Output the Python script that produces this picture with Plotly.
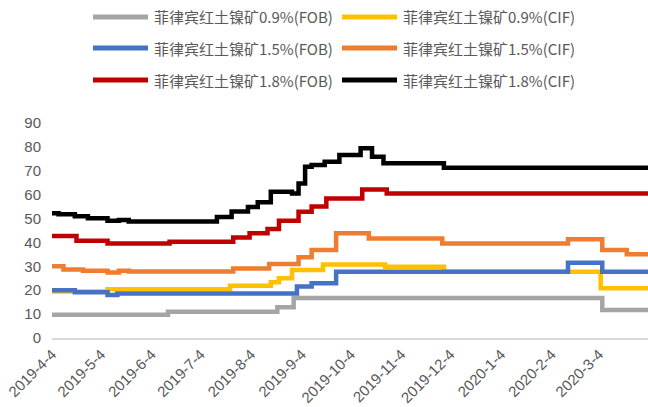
import plotly.graph_objects as go

# ---------------- data ----------------
series_names = [
    "菲律宾红土镍矿0.9%(FOB)",
    "菲律宾红土镍矿0.9%(CIF)",
    "菲律宾红土镍矿1.5%(FOB)",
    "菲律宾红土镍矿1.5%(CIF)",
    "菲律宾红土镍矿1.8%(FOB)",
    "菲律宾红土镍矿1.8%(CIF)",
]

gray_dates = ["2019-04-04", "2019-06-14", "2019-08-20", "2019-08-30", "2020-03-06", "2020-04-03"]
gray_vals = [9.7, 11.0, 12.9, 16.7, 11.7, 11.7]

yellow_dates = ["2019-04-04", "2019-05-08", "2019-07-22", "2019-08-16", "2019-08-21", "2019-08-29",
                "2019-09-17", "2019-10-25", "2019-11-30", "2020-03-05", "2020-04-03"]
yellow_vals = [19.5, 20.4, 21.9, 23.3, 25.0, 28.5, 30.8, 29.8, 27.7, 20.8, 20.8]

blue_dates = ["2019-04-04", "2019-04-18", "2019-05-08", "2019-05-14", "2019-09-01", "2019-09-10",
              "2019-09-25", "2020-02-14", "2020-03-06", "2020-04-03"]
blue_vals = [20.0, 19.1, 18.0, 18.6, 21.6, 22.9, 27.7, 31.5, 27.7, 27.7]

orange_dates = ["2019-04-04", "2019-04-11", "2019-04-23", "2019-05-08", "2019-05-15", "2019-05-21",
                "2019-07-24", "2019-08-15", "2019-09-02", "2019-09-10", "2019-09-25", "2019-10-15",
                "2019-11-29", "2020-02-14", "2020-03-06", "2020-03-21", "2020-04-03"]
orange_vals = [30.0, 28.7, 28.2, 27.4, 28.2, 27.8, 29.1, 31.0, 33.8, 36.8, 43.8, 41.7,
               39.6, 41.3, 36.8, 35.1, 35.1]

red_dates = ["2019-04-04", "2019-04-19", "2019-05-08", "2019-06-15", "2019-07-24", "2019-08-03",
             "2019-08-14", "2019-08-21", "2019-09-02", "2019-09-10", "2019-09-19", "2019-10-11",
             "2019-10-26", "2020-04-03"]
red_vals = [42.7, 40.7, 39.6, 40.3, 42.1, 43.8, 45.6, 49.1, 52.9, 55.0, 58.4, 62.2, 60.5, 60.5]

black_dates = ["2019-04-04", "2019-04-08", "2019-04-18", "2019-04-26", "2019-05-08", "2019-05-15",
               "2019-05-21", "2019-07-14", "2019-07-23", "2019-08-02", "2019-08-08", "2019-08-16",
               "2019-08-29", "2019-09-02", "2019-09-06", "2019-09-10", "2019-09-18", "2019-09-27",
               "2019-10-10", "2019-10-17", "2019-10-24", "2019-11-30", "2020-04-03"]
black_vals = [52.2, 51.8, 51.0, 50.1, 49.1, 49.4, 48.8, 50.6, 53.0, 54.8, 56.8, 61.2,
              60.5, 64.7, 71.7, 72.4, 73.8, 76.6, 79.4, 75.9, 73.1, 71.3, 71.3]

x_tick_dates = ["2019-04-04", "2019-05-04", "2019-06-04", "2019-07-04", "2019-08-04", "2019-09-04",
                "2019-10-04", "2019-11-04", "2019-12-04", "2020-01-04", "2020-02-04", "2020-03-04"]
x_tick_labels = ["2019-4-4", "2019-5-4", "2019-6-4", "2019-7-4", "2019-8-4", "2019-9-4",
                 "2019-10-4", "2019-11-4", "2019-12-4", "2020-1-4", "2020-2-4", "2020-3-4"]
y_tick_vals = [0, 10, 20, 30, 40, 50, 60, 70, 80, 90]

# ---------------- styling ----------------
colors = ["#A5A5A5", "#FFC000", "#4472C4", "#ED7D31", "#C00000", "#000000"]
W, H = 648, 407
ML, MR, MT, MB = 52, 0, 123, 69
PW, PH = W - ML - MR, H - MT - MB
TXT = "#595959"

all_series = [
    (gray_dates, gray_vals),
    (yellow_dates, yellow_vals),
    (blue_dates, blue_vals),
    (orange_dates, orange_vals),
    (red_dates, red_vals),
    (black_dates, black_vals),
]

fig = go.Figure()
for (d, v), name, c in zip(all_series, series_names, colors):
    fig.add_trace(go.Scatter(x=d, y=v, mode="lines", name=name,
                             line=dict(color=c, width=4.5, shape="hv"),
                             showlegend=False))


def px_x(px):
    return (px - ML) / PW


def px_y(py):
    return (H - MB - py) / PH


# manual legend: 3 rows x 2 columns
shapes, annotations = [], []
row_y = [17, 48, 80]
col_line = [(93, 148), (342, 397)]
col_text = [152, 401]
for i, (name, c) in enumerate(zip(series_names, colors)):
    r, k = divmod(i, 2)
    yy = px_y(row_y[r])
    shapes.append(dict(type="line", xref="paper", yref="paper",
                       x0=px_x(col_line[k][0]), x1=px_x(col_line[k][1]), y0=yy, y1=yy,
                       line=dict(color=c, width=5)))
    annotations.append(dict(xref="paper", yref="paper", x=px_x(col_text[k]), y=yy,
                            text=name, showarrow=False, xanchor="left", yanchor="middle",
                            font=dict(family="Noto Sans CJK SC", size=15, color=TXT)))

fig.update_layout(
    width=W, height=H,
    margin=dict(l=ML, r=MR, t=MT, b=MB, pad=0),
    plot_bgcolor="white", paper_bgcolor="white",
    showlegend=False,
    shapes=shapes, annotations=annotations,
    font=dict(family="Liberation Sans, Arial, sans-serif", size=15, color=TXT),
)
fig.update_xaxes(
    type="date", range=["2019-04-04", "2020-04-03"],
    tickmode="array", tickvals=x_tick_dates, ticktext=x_tick_labels,
    tickangle=-45, showgrid=False, zeroline=False,
    showline=True, linecolor="#D9D9D9", linewidth=1.5, ticks="",
    tickfont=dict(size=15, color=TXT),
)
fig.update_yaxes(
    range=[0, 90], tickmode="array", tickvals=y_tick_vals,
    showgrid=False, zeroline=False, showline=False, ticks="",
    tickfont=dict(size=15, color=TXT), ticklabelstandoff=10,
)

fig.write_html("out.html")
